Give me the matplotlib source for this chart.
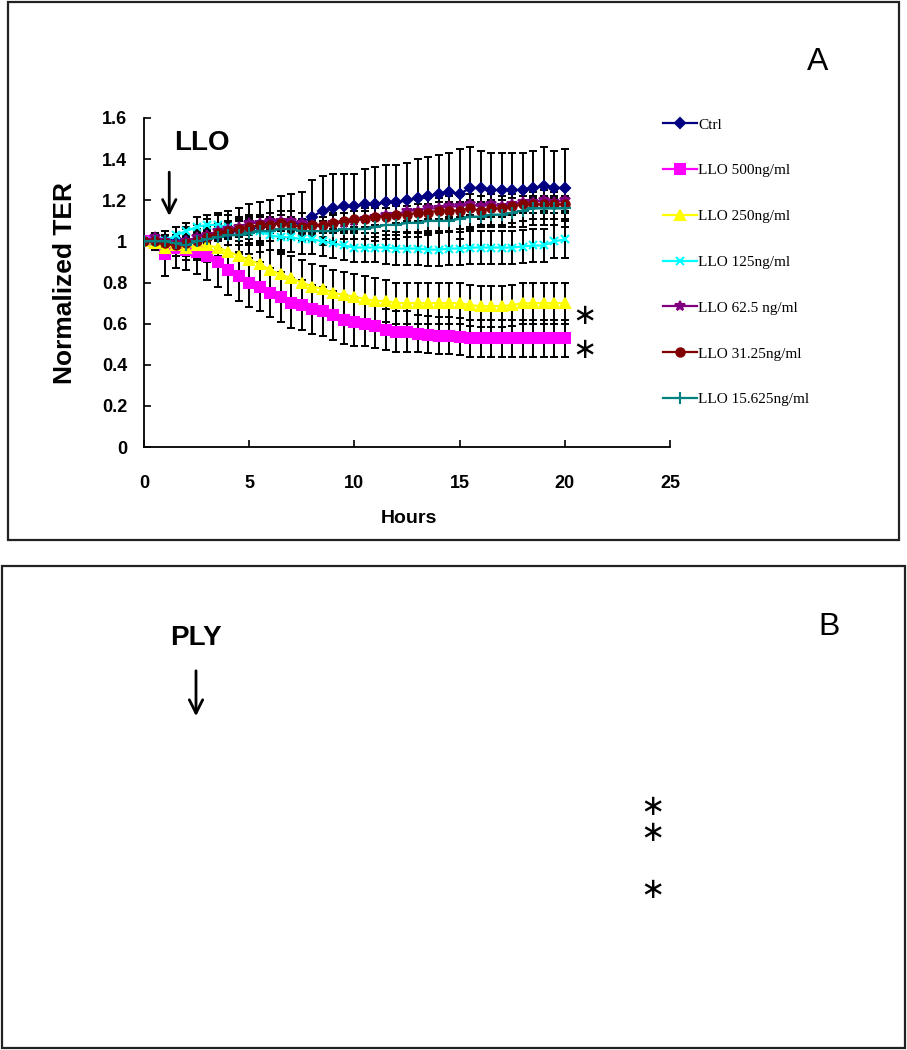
import matplotlib
matplotlib.use('Agg')
import matplotlib.pyplot as plt
from matplotlib.patches import Rectangle, FancyArrowPatch

hours = [0, 0.5, 1, 1.5, 2, 2.5, 3, 3.5, 4, 4.5, 5, 5.5, 6, 6.5, 7, 7.5, 8, 8.5, 9, 9.5,
         10, 10.5, 11, 11.5, 12, 12.5, 13, 13.5, 14, 14.5, 15, 15.5, 16, 16.5, 17, 17.5,
         18, 18.5, 19, 19.5, 20]

labels = ['Ctrl', 'LLO 500ng/ml', 'LLO 250ng/ml', 'LLO 125ng/ml',
          'LLO 62.5 ng/ml', 'LLO 31.25ng/ml', 'LLO 15.625ng/ml']

ctrl = [1.00, 1.01, 1.00, 1.01, 1.00, 1.00, 1.01, 1.03, 1.04, 1.05, 1.06, 1.07, 1.08, 1.09,
        1.09, 1.09, 1.12, 1.15, 1.16, 1.17, 1.17, 1.18, 1.18, 1.19, 1.19, 1.20, 1.21, 1.22,
        1.23, 1.24, 1.23, 1.26, 1.26, 1.25, 1.25, 1.25, 1.25, 1.26, 1.27, 1.26, 1.26]
ctrl_sd = [0, 0.03, 0.05, 0.06, 0.07, 0.08, 0.10, 0.10, 0.11, 0.11, 0.12, 0.12, 0.12, 0.13,
           0.14, 0.15, 0.18, 0.17, 0.17, 0.16, 0.16, 0.17, 0.18, 0.18, 0.18, 0.18, 0.19, 0.19,
           0.19, 0.19, 0.22, 0.20, 0.18, 0.18, 0.18, 0.18, 0.18, 0.18, 0.19, 0.18, 0.19]

llo500 = [1.00, 0.99, 0.94, 0.97, 0.96, 0.95, 0.93, 0.90, 0.86, 0.83, 0.80, 0.78, 0.75, 0.73,
          0.70, 0.69, 0.67, 0.66, 0.64, 0.62, 0.61, 0.60, 0.59, 0.57, 0.56, 0.56, 0.55, 0.545,
          0.54, 0.54, 0.535, 0.53, 0.53, 0.53, 0.53, 0.53, 0.53, 0.53, 0.53, 0.53, 0.53]
llo500_sd = [0, 0.03, 0.11, 0.10, 0.10, 0.11, 0.12, 0.12, 0.12, 0.12, 0.12, 0.12, 0.12, 0.12,
             0.12, 0.12, 0.12, 0.12, 0.12, 0.12, 0.12, 0.11, 0.11, 0.10, 0.10, 0.10, 0.09, 0.09,
             0.09, 0.09, 0.09, 0.09, 0.09, 0.09, 0.09, 0.09, 0.09, 0.09, 0.09, 0.09, 0.09]

llo250 = [1.00, 0.99, 0.97, 0.98, 0.97, 0.98, 0.98, 0.97, 0.95, 0.93, 0.91, 0.89, 0.86, 0.84,
          0.82, 0.80, 0.78, 0.77, 0.75, 0.74, 0.73, 0.72, 0.71, 0.71, 0.70, 0.70, 0.70, 0.70,
          0.70, 0.70, 0.70, 0.69, 0.685, 0.685, 0.685, 0.69, 0.70, 0.70, 0.70, 0.70, 0.70]
llo250_sd = [0, 0.02, 0.04, 0.05, 0.06, 0.07, 0.08, 0.08, 0.09, 0.09, 0.10, 0.10, 0.10, 0.10,
             0.11, 0.11, 0.11, 0.11, 0.11, 0.11, 0.11, 0.11, 0.11, 0.10, 0.10, 0.10, 0.10, 0.10,
             0.10, 0.10, 0.10, 0.10, 0.10, 0.10, 0.10, 0.10, 0.10, 0.10, 0.10, 0.10, 0.10]

llo125 = [1.00, 1.00, 1.00, 1.03, 1.05, 1.07, 1.08, 1.08, 1.07, 1.06, 1.05, 1.05, 1.03, 1.02,
          1.02, 1.01, 1.01, 1.00, 0.99, 0.98, 0.97, 0.97, 0.97, 0.97, 0.965, 0.965, 0.965, 0.96,
          0.96, 0.965, 0.965, 0.97, 0.97, 0.97, 0.97, 0.97, 0.975, 0.98, 0.98, 1.00, 1.01]
llo125_sd = [0, 0.02, 0.03, 0.04, 0.04, 0.05, 0.05, 0.06, 0.06, 0.06, 0.07, 0.07, 0.07, 0.07,
             0.07, 0.07, 0.07, 0.07, 0.07, 0.07, 0.07, 0.07, 0.07, 0.08, 0.08, 0.08, 0.08, 0.08,
             0.08, 0.08, 0.08, 0.08, 0.08, 0.08, 0.08, 0.08, 0.08, 0.08, 0.08, 0.08, 0.09]

llo62 = [1.00, 1.02, 1.00, 0.99, 1.00, 1.02, 1.03, 1.05, 1.06, 1.07, 1.09, 1.09, 1.10, 1.10,
         1.10, 1.09, 1.08, 1.07, 1.09, 1.09, 1.10, 1.11, 1.12, 1.13, 1.13, 1.15, 1.15, 1.16,
         1.16, 1.17, 1.17, 1.18, 1.17, 1.18, 1.17, 1.18, 1.19, 1.19, 1.20, 1.19, 1.20]
llo62_sd = [0, 0.02, 0.03, 0.03, 0.03, 0.03, 0.04, 0.04, 0.04, 0.04, 0.04, 0.04, 0.04, 0.05,
            0.05, 0.05, 0.05, 0.05, 0.05, 0.05, 0.05, 0.05, 0.05, 0.05, 0.05, 0.05, 0.05, 0.05,
            0.05, 0.05, 0.05, 0.05, 0.05, 0.05, 0.05, 0.05, 0.05, 0.05, 0.05, 0.05, 0.05]

llo31 = [1.00, 1.00, 0.99, 0.98, 0.99, 1.00, 1.02, 1.04, 1.05, 1.06, 1.07, 1.08, 1.08, 1.09,
         1.08, 1.07, 1.08, 1.08, 1.09, 1.10, 1.11, 1.11, 1.12, 1.12, 1.13, 1.13, 1.14, 1.14,
         1.15, 1.15, 1.15, 1.16, 1.15, 1.16, 1.16, 1.17, 1.18, 1.18, 1.18, 1.18, 1.18]
llo31_sd = [0, 0.02, 0.03, 0.03, 0.03, 0.04, 0.04, 0.04, 0.04, 0.04, 0.04, 0.04, 0.04, 0.04,
            0.04, 0.04, 0.04, 0.04, 0.04, 0.04, 0.04, 0.04, 0.04, 0.04, 0.04, 0.04, 0.04, 0.04,
            0.04, 0.04, 0.04, 0.04, 0.04, 0.04, 0.04, 0.04, 0.04, 0.04, 0.04, 0.04, 0.04]

llo15 = [1.00, 1.00, 1.00, 0.99, 0.98, 1.00, 1.01, 1.02, 1.03, 1.03, 1.04, 1.05, 1.05, 1.06,
         1.06, 1.05, 1.05, 1.05, 1.05, 1.06, 1.06, 1.06, 1.07, 1.08, 1.08, 1.09, 1.09, 1.10,
         1.10, 1.10, 1.11, 1.12, 1.12, 1.13, 1.13, 1.14, 1.15, 1.16, 1.16, 1.16, 1.16]
llo15_sd = [0, 0.02, 0.03, 0.03, 0.04, 0.04, 0.04, 0.05, 0.05, 0.05, 0.05, 0.05, 0.05, 0.05,
            0.05, 0.05, 0.05, 0.05, 0.05, 0.05, 0.05, 0.05, 0.05, 0.05, 0.05, 0.05, 0.05, 0.05,
            0.05, 0.05, 0.05, 0.05, 0.05, 0.05, 0.05, 0.05, 0.05, 0.05, 0.05, 0.05, 0.05]

x_ticks = [0, 5, 10, 15, 20, 25]
y_ticks = [0, 0.2, 0.4, 0.6, 0.8, 1.0, 1.2, 1.4, 1.6]
y_tick_labels = ['0', '0.2', '0.4', '0.6', '0.8', '1', '1.2', '1.4', '1.6']

series = [ctrl, llo500, llo250, llo125, llo62, llo31, llo15]
errors = [ctrl_sd, llo500_sd, llo250_sd, llo125_sd, llo62_sd, llo31_sd, llo15_sd]
colors = ['#000080', '#FF00FF', '#FFFF00', '#00FFFF', '#800080', '#800000', '#008080']
markers = ['D', 's', '^', 'x', '*', 'o', '+']
msizes = [5, 7, 7, 6, 7.5, 6, 8]

W, H = 907, 1050
fig = plt.figure(figsize=(W / 100, H / 100), dpi=100)
sans = 'Liberation Sans'

# panel frames
fig.add_artist(Rectangle((8 / W, 1 - 540 / H), 891 / W, 538 / H, transform=fig.transFigure,
                         fill=False, lw=1.6, ec='#222222'))
fig.add_artist(Rectangle((2 / W, 1 - 1048 / H), 903 / W, 482 / H, transform=fig.transFigure,
                         fill=False, lw=1.6, ec='#222222'))

ax = fig.add_axes([144 / W, 1 - 447 / H, 526 / W, 329 / H])

for y, e in zip(series, errors):
    ax.errorbar(hours, y, yerr=e, fmt='none', ecolor='black', elinewidth=1.4,
                capsize=3.2, capthick=1.4, zorder=2)
for y, c, m, ms, lab in zip(series, colors, markers, msizes, labels):
    ax.plot(hours, y, color=c, marker=m, markersize=ms, lw=1.6, mec=c, mew=1.5,
            label=lab, zorder=3)

ax.set_xlim(0, 25)
ax.set_ylim(0, 1.6)
ax.set_xticks(x_ticks)
ax.set_yticks(y_ticks)
ax.set_yticklabels(y_tick_labels)
for s in ['top', 'right']:
    ax.spines[s].set_visible(False)
for s in ['left', 'bottom']:
    ax.spines[s].set_linewidth(1.3)
ax.tick_params(direction='in', length=5, width=1.2)
ax.tick_params(axis='x', pad=20)
ax.tick_params(axis='y', pad=12)
for t in ax.get_xticklabels() + ax.get_yticklabels():
    t.set_fontfamily(sans)
    t.set_fontsize(13)
    t.set_fontweight('bold')

ax.set_xlabel('Hours', fontfamily=sans, fontsize=14, fontweight='bold', va='center')
ax.xaxis.set_label_coords(0.504, -0.216)
ax.set_ylabel('Normalized TER', fontfamily=sans, fontsize=19, fontweight='bold', va='center')
ax.yaxis.set_label_coords(-0.15, 0.5)

# LLO annotation
ax.text(2.75, 1.48, 'LLO', fontfamily=sans, fontsize=20, fontweight='bold',
        ha='center', va='center')
ax.annotate('', xy=(1.2, 1.11), xytext=(1.2, 1.35),
            arrowprops=dict(arrowstyle='->', lw=2, color='black', mutation_scale=24))

leg = ax.legend(loc='upper left', bbox_to_anchor=(663 / W, 1 - 118 / H),
                bbox_transform=fig.transFigure, frameon=False, borderpad=0,
                borderaxespad=0, handlelength=2.2, handletextpad=0.1,
                labelspacing=2.1, prop={'family': 'Liberation Serif', 'size': 11})

fig.text(818 / W, 1 - 62 / H, 'A', fontfamily=sans, fontsize=23, ha='center', va='center')
for yy in [316, 350]:
    fig.text(584 / W, 1 - yy / H, '\u2217', fontfamily='DejaVu Sans', fontsize=21,
             ha='center', va='center')

# panel B
fig.text(829 / W, 1 - 627 / H, 'B', fontfamily=sans, fontsize=23, ha='center', va='center')
fig.text(196 / W, 1 - 638 / H, 'PLY', fontfamily=sans, fontsize=20, fontweight='bold',
         ha='center', va='center')
fig.add_artist(FancyArrowPatch((196 / W, 1 - 668 / H), (196 / W, 1 - 719 / H),
                               transform=fig.transFigure, arrowstyle='->',
                               lw=2, color='black', mutation_scale=24))
for yy in [807, 833, 890]:
    fig.text(652 / W, 1 - yy / H, '\u2217', fontfamily='DejaVu Sans', fontsize=21,
             ha='center', va='center')

fig.savefig('out.png', dpi=100)
